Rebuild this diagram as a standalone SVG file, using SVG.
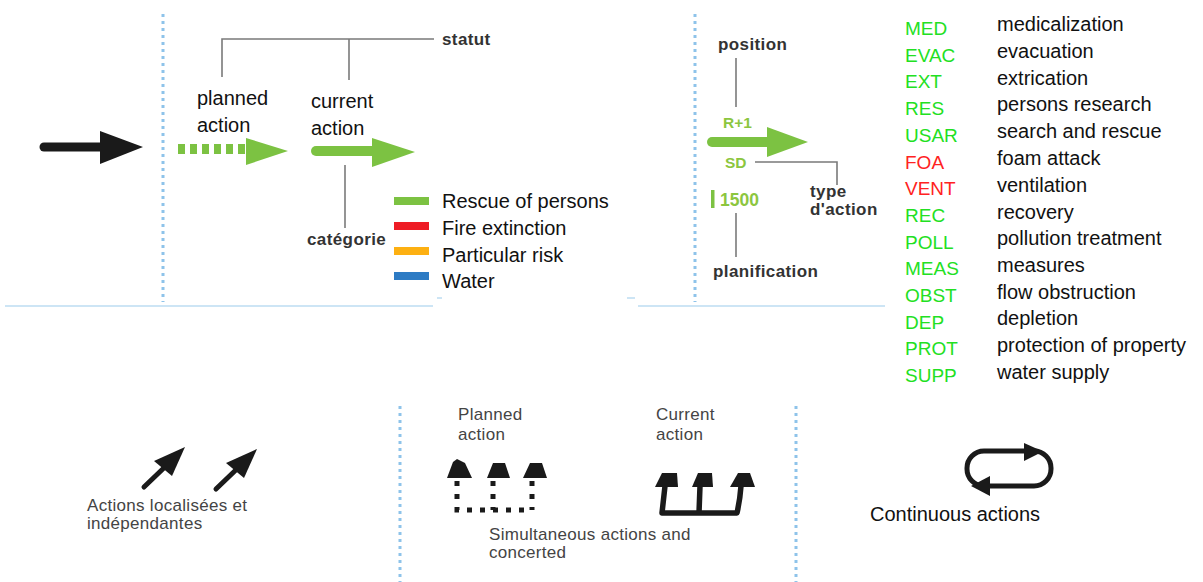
<svg xmlns="http://www.w3.org/2000/svg" width="1203" height="582" viewBox="0 0 1203 582">
<style>
.sep{stroke:#8ec3ea;stroke-width:3;stroke-dasharray:3 4;fill:none}
.hl{stroke:#bcdcf2;stroke-width:1.5;fill:none}
.lead{stroke:#7a7a7a;stroke-width:1.6;fill:none}
.lbl{font-family:"Liberation Sans",Arial,sans-serif;font-weight:bold;font-size:17px;fill:#333;letter-spacing:0.4px}
.txt{font-family:"Liberation Sans",Arial,sans-serif;font-size:20px;fill:#111}
.sm{font-family:"Liberation Sans",Arial,sans-serif;font-size:17px;fill:#444;letter-spacing:0.3px}
.code{font-family:"Liberation Sans",Arial,sans-serif;font-size:19px;fill:#22e022}
.red{fill:#ff2222}
.def{font-family:"Liberation Sans",Arial,sans-serif;font-size:20px;fill:#111}
.gt{font-family:"Liberation Sans",Arial,sans-serif;font-weight:bold;font-size:15.5px;fill:#8cc63f}
.big{font-size:17.5px}
.g{fill:#7cc242}
.gs{stroke:#7cc242;stroke-width:10;fill:none}
.blk{fill:#1a1a1a}
.bs{stroke:#1a1a1a;fill:none}
</style>
<rect width="1203" height="582" fill="#fff"/>

<g id="separators">
<line class="sep" x1="163" y1="14" x2="163" y2="302"/>
<line class="sep" x1="695" y1="14" x2="695" y2="302"/>
<line class="sep" x1="400" y1="406" x2="400" y2="582"/>
<line class="sep" x1="796" y1="406" x2="796" y2="582"/>
<line class="hl" x1="5" y1="306" x2="433" y2="306"/>
<line class="hl" x1="437" y1="298" x2="442" y2="298"/>
<line class="hl" x1="627" y1="298" x2="635" y2="298"/>
<line class="hl" x1="638" y1="306" x2="885" y2="306"/>
</g>

<g id="connectors">
<polyline class="lead" points="222,77 222,39 434,39"/>
<line class="lead" x1="349" y1="39" x2="349" y2="80"/>
<line class="lead" x1="345" y1="165" x2="345" y2="228"/>
<line class="lead" x1="736" y1="58" x2="736" y2="107"/>
<polyline class="lead" points="755,162 837,162 837,185"/>
<line class="lead" x1="736" y1="213" x2="736" y2="257"/>
</g>

<g id="black-arrow">
<line class="bs" x1="44" y1="147" x2="104" y2="147" stroke-width="9" stroke-linecap="round"/>
<polygon class="blk" points="100,131 143,147 100,164"/>
</g>

<g id="planned-action">
<text class="txt" x="197" y="105">planned</text>
<text class="txt" x="197" y="132">action</text>
<line class="gs" x1="178" y1="149" x2="247" y2="149" stroke-dasharray="7 5"/>
<polygon class="g" points="246,138 288,151 246,165"/>
</g>

<g id="current-action">
<text class="txt" x="311" y="108">current</text>
<text class="txt" x="311" y="135">action</text>
<line class="gs" x1="316" y1="151" x2="376" y2="151" stroke-linecap="round"/>
<polygon class="g" points="372,138 415,152 372,167"/>
</g>

<g id="statut"><text class="lbl" x="442" y="45">statut</text></g>
<g id="categorie"><text class="lbl" x="307" y="245">catégorie</text></g>

<g id="legend">
<rect x="394" y="197" width="35" height="8" fill="#7cc242"/>
<rect x="394" y="222" width="35" height="8" fill="#ee1c25"/>
<rect x="394" y="247" width="35" height="8" fill="#fdb012"/>
<rect x="394" y="272" width="35" height="8" fill="#2d7bc4"/>
<text class="txt" x="442" y="208">Rescue of persons</text>
<text class="txt" x="442" y="235">Fire extinction</text>
<text class="txt" x="442" y="262">Particular risk</text>
<text class="txt" x="442" y="288">Water</text>
</g>

<g id="position"><text class="lbl" x="718" y="50">position</text></g>
<g id="symbol">
<text class="gt" x="723" y="128">R+1</text>
<line class="gs" x1="712" y1="142" x2="770" y2="142" stroke-linecap="round"/>
<polygon class="g" points="767,127 808,142 767,157"/>
<text class="gt" x="725" y="168">SD</text>
<rect x="711" y="190" width="3.5" height="18" fill="#7cc242"/>
<text class="gt big" x="720" y="206">1500</text>
</g>
<g id="type-action">
<text class="lbl" x="810" y="197">type</text>
<text class="lbl" x="810" y="215">d'action</text>
</g>
<g id="planification"><text class="lbl" x="713" y="277">planification</text></g>

<g id="codes">
<text class="code" x="905" y="35">MED</text><text class="def" x="997" y="31">medicalization</text>
<text class="code" x="905" y="61.7">EVAC</text><text class="def" x="997" y="58">evacuation</text>
<text class="code" x="905" y="88.4">EXT</text><text class="def" x="997" y="84.5">extrication</text>
<text class="code" x="905" y="115.1">RES</text><text class="def" x="997" y="111">persons research</text>
<text class="code" x="905" y="141.8">USAR</text><text class="def" x="997" y="138">search and rescue</text>
<text class="code red" x="905" y="168.5">FOA</text><text class="def" x="997" y="165">foam attack</text>
<text class="code red" x="905" y="195.2">VENT</text><text class="def" x="997" y="191.5">ventilation</text>
<text class="code" x="905" y="221.9">REC</text><text class="def" x="997" y="218.5">recovery</text>
<text class="code" x="905" y="248.6">POLL</text><text class="def" x="997" y="245">pollution treatment</text>
<text class="code" x="905" y="275.3">MEAS</text><text class="def" x="997" y="272">measures</text>
<text class="code" x="905" y="302">OBST</text><text class="def" x="997" y="298.5">flow obstruction</text>
<text class="code" x="905" y="328.7">DEP</text><text class="def" x="997" y="325">depletion</text>
<text class="code" x="905" y="355.4">PROT</text><text class="def" x="997" y="352">protection of property</text>
<text class="code" x="905" y="382.1">SUPP</text><text class="def" x="997" y="378.5">water supply</text>
</g>

<g id="localised-actions">
<line class="bs" x1="144" y1="487" x2="168" y2="464" stroke-width="5" stroke-linecap="round"/>
<polygon class="blk" points="185,447 154,461 172,476"/>
<line class="bs" x1="216" y1="489" x2="240" y2="466" stroke-width="5" stroke-linecap="round"/>
<polygon class="blk" points="257,449 226,463 244,478"/>
<text class="sm" x="87" y="511">Actions localisées et</text>
<text class="sm" x="87" y="529">indépendantes</text>
</g>

<g id="simultaneous-actions">
<text class="sm" x="458" y="420">Planned</text>
<text class="sm" x="458" y="440">action</text>
<text class="sm" x="656" y="420">Current</text>
<text class="sm" x="656" y="440">action</text>
<g stroke="#1a1a1a" stroke-width="5" fill="none" stroke-dasharray="5 8">
<polyline points="457,481 457,510 532,510"/>
<line x1="493" y1="481" x2="493" y2="510"/>
<line x1="532" y1="481" x2="532" y2="510"/>
</g>
<polygon class="blk" points="453,462 457,459 465,463 472,478 447,478"/>
<polygon class="blk" points="493,463 505,463 510,478 487,478"/>
<polygon class="blk" points="530,463 542,463 547,478 523,478"/>
<path class="bs" d="M665,486 L662,513 L737,513 Q740,500 741,486 M700,486 L699,513" stroke-width="5.5" stroke-linejoin="round"/>
<polygon class="blk" points="662,473 677,473 678,487 655,487"/>
<polygon class="blk" points="698,473 712,473 713,487 692,487"/>
<polygon class="blk" points="738,473 750,473 755,487 730,487"/>
<text class="sm" x="489" y="540">Simultaneous actions and</text>
<text class="sm" x="489" y="558">concerted</text>
</g>

<g id="continuous-actions">
<rect class="bs" x="967" y="451" width="84" height="35" rx="17" stroke-width="5"/>
<polygon class="blk" points="1024,443 1043,451.5 1024,461"/>
<polygon class="blk" points="990,476 971,486 990,496"/>
<text class="txt" x="870" y="521">Continuous actions</text>
</g>
</svg>
